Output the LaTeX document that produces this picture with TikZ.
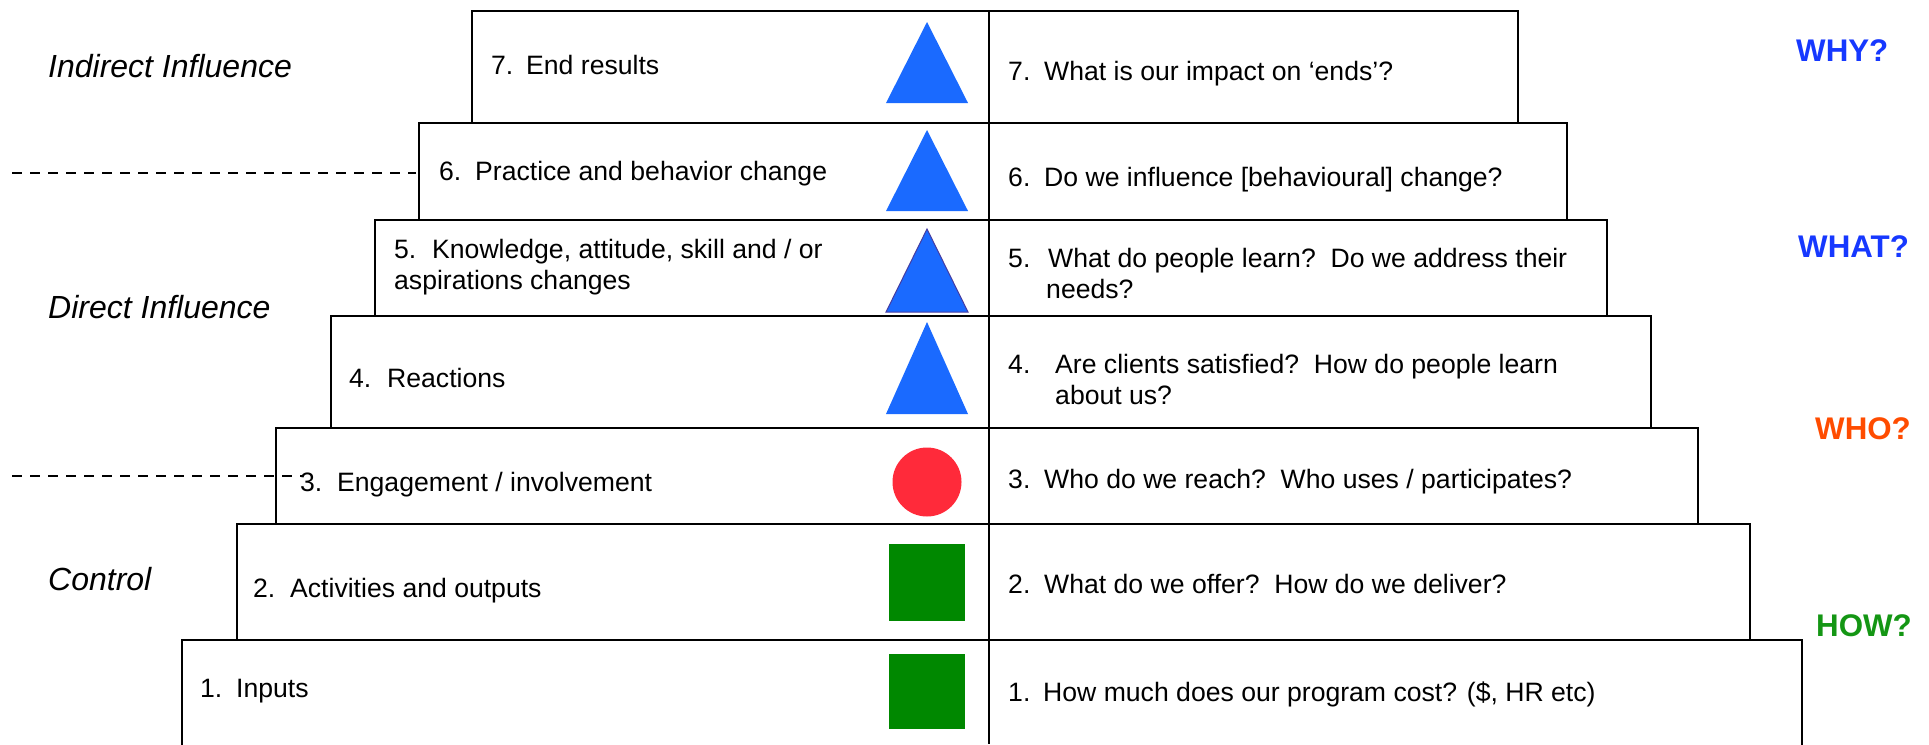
\documentclass[tikz,border=0pt]{standalone}
\usepackage{fontspec}
\setmainfont{Liberation Sans}
\definecolor{triblue}{RGB}{26,106,255}
\definecolor{triedge}{RGB}{70,60,160}
\definecolor{dotred}{RGB}{255,42,58}
\definecolor{sqgreen}{RGB}{0,136,0}
\definecolor{qblue}{RGB}{22,56,255}
\definecolor{qorange}{RGB}{255,76,0}
\definecolor{qgreen}{RGB}{20,150,20}
\newcommand\numbox[2][37pt]{\makebox[#1][l]{#2}}
\begin{document}
\begin{tikzpicture}[x=1pt,y=-1pt,
  stepbox/.style={draw=black,line width=2.5pt},
  divider/.style={draw=black,line width=2pt},
  txt/.style={anchor=base west,inner sep=0pt,font=\fontsize{26.6}{31.5}\selectfont},
  side/.style={anchor=base west,inner sep=0pt,font=\fontsize{32}{36}\selectfont\itshape},
  why/.style={anchor=base west,inner sep=0pt,font=\fontsize{31.3}{36}\selectfont\bfseries},
  sepline/.style={draw=black,line width=2.5pt,dash pattern=on 10pt off 8pt},
  tri/.style={fill=triblue},
  sq/.style={fill=sqgreen}]
\useasboundingbox (0,0) rectangle (1929,744);
% step boxes
\draw[stepbox] (472,11) rectangle (1518,123);
\draw[stepbox] (419,123) rectangle (1567,220);
\draw[stepbox] (375,220) rectangle (1607,316);
\draw[stepbox] (331,316) rectangle (1651,428);
\draw[stepbox] (276,428) rectangle (1698,524);
\draw[stepbox] (237,524) rectangle (1750,640);
\draw[stepbox] (182,746) -- (182,640) -- (1802,640) -- (1802,746);
\draw[divider] (989,11) -- (989,744);
% dashed separators
\coordinate (d1a) at (12,173);
\coordinate (d1b) at (416,173);
\coordinate (d2a) at (12,476);
\coordinate (d2b) at (302,476);
\draw[sepline] (d1a) -- (d1b);
\draw[sepline] (d2a) -- (d2b);
% symbols
\fill[tri] (886,103) -- (927,22) -- (968,103) -- cycle;
\fill[tri] (886,211) -- (927,130) -- (968,211) -- cycle;
\filldraw[tri,draw=triedge,line width=1pt] (886,312) -- (927,229) -- (968,312) -- cycle;
\fill[tri] (886,414) -- (927,322) -- (968,414) -- cycle;
\fill[dotred] (927,482) circle[radius=34.5];
\fill[sq] (889,544) rectangle (965,621);
\fill[sq] (889,654) rectangle (965,729);
% left texts
\node[txt] (l7) at (491,74) {\numbox[35pt]{7.}End results};
\node[txt] (l6) at (439,180) {\numbox[36pt]{6.}Practice and behavior change};
\node[txt] (l5) at (394,258) {\begin{tabular}[t]{@{}l@{}}\numbox[38pt]{5.}Knowledge, attitude, skill and / or\\aspirations changes\end{tabular}};
\node[txt] (l4) at (349,387) {\numbox[38pt]{4.}Reactions};
\node[txt] (l3) at (300,491) {\numbox{3.}Engagement / involvement};
\node[txt] (l2) at (253,597) {\numbox{2.}Activities and outputs};
\node[txt] (l1) at (200,697) {\numbox[36pt]{1.}Inputs};
% right texts
\node[txt] (r7) at (1008,80) {\numbox[36pt]{7.}What is our impact on ‘ends’?};
\node[txt] (r6) at (1008,186) {\numbox[36pt]{6.}Do we influence [behavioural] change?};
\node[txt] (r5) at (1008,267) {\begin{tabular}[t]{@{}l@{}}\numbox[40pt]{5.}What do people learn?\ \ Do we address their\\\hspace*{38pt}needs?\end{tabular}};
\node[txt] (r4) at (1008,373) {\begin{tabular}[t]{@{}l@{}}\numbox[47pt]{4.}Are clients satisfied?\ \ How do people learn\\\hspace*{47pt}about us?\end{tabular}};
\node[txt] (r3) at (1008,488) {\numbox[36pt]{3.}Who do we reach?\ \ Who uses / participates?};
\node[txt] (r2) at (1008,593) {\numbox[36pt]{2.}What do we offer?\ \ How do we deliver?};
\node[txt] (r1) at (1008,701) {\numbox[35pt]{1.}How much does our program cost? (\$, HR etc)};
% side labels
\node[side] (ind) at (48,77) {Indirect Influence};
\node[side] (dir) at (48,318) {Direct Influence};
\node[side] (ctl) at (48,590) {Control};
\node[why,text=qblue] (why) at (1796,61) {WHY?};
\node[why,text=qblue] (what) at (1798,257) {WHAT?};
\node[why,text=qorange] (who) at (1815,439) {WHO?};
\node[why,text=qgreen] (how) at (1816,636) {HOW?};
\end{tikzpicture}
\end{document}
